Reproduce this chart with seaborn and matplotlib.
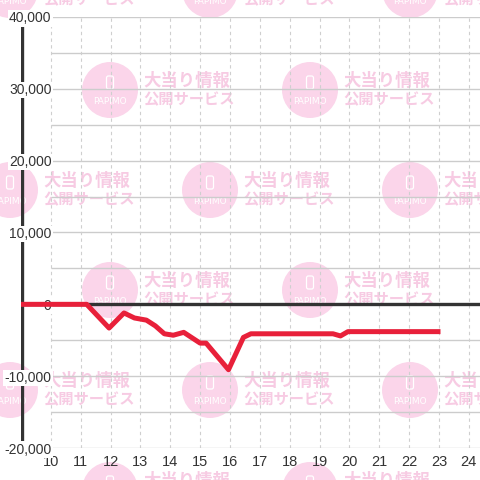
import matplotlib
matplotlib.use("Agg")
import matplotlib.pyplot as plt
import matplotlib.patches as mpatches
import seaborn as sns
import pandas as pd

# ---- data ----
hours = [9.0, 11.2, 11.95, 12.45, 12.8, 13.2, 13.5, 13.8, 14.1, 14.45, 15.0, 15.2,
         15.95, 16.45, 16.7, 19.45, 19.7, 19.95, 23.05]
values = [0, 0, -3300, -1200, -1900, -2200, -3000, -4100, -4300, -3900, -5400, -5400,
          -9100, -4600, -4100, -4100, -4400, -3800, -3800]
x_ticks = list(range(10, 25))
y_ticks = [-20000, -10000, 0, 10000, 20000, 30000, 40000]
y_tick_labels = ["-20,000", "-10,000", "0", "10,000", "20,000", "30,000", "40,000"]
grid_y = list(range(-20000, 40001, 5000))
wm_line1 = "大当り情報"
wm_line2 = "公開サービス"
wm_logo = "PAPIMO"

sns.set_theme(style="white")
plt.rcParams["font.family"] = ["Liberation Sans", "DejaVu Sans"]

fig = plt.figure(figsize=(4.8, 4.8), dpi=100, facecolor="white")

# ---- watermark (behind the chart) ----
W = 480.0
circle_col = "#fbd5ea"
text_col = "#f7cbe3"
for k in range(6):
    cy = -10 + 100 * k
    xs = [10, 210, 410] if k % 2 == 0 else [110, 310]
    for cx in xs:
        fig.patches.append(mpatches.Circle((cx / W, 1 - cy / W), 28 / W,
                                           transform=fig.transFigure,
                                           facecolor=circle_col, edgecolor="none",
                                           zorder=-5))
        fig.patches.append(mpatches.FancyBboxPatch(((cx - 3.5) / W, 1 - (cy - 1) / W),
                                                   7 / W, 13 / W,
                                                   boxstyle="round,pad=0,rounding_size=0.004",
                                                   transform=fig.transFigure,
                                                   facecolor="none", edgecolor="white",
                                                   linewidth=0.9, zorder=-4))
        fig.text(cx / W, 1 - (cy + 11) / W, wm_logo, color="white", fontsize=6.5,
                 ha="center", va="center", zorder=-4,
                 family=["DejaVu Sans"])
        fig.text((cx + 33) / W, 1 - (cy - 9) / W, wm_line1, color=text_col, fontsize=12.5,
                 ha="left", va="center", zorder=-4, fontweight="bold",
                 family=["Noto Sans CJK JP"])
        fig.text((cx + 33) / W, 1 - (cy + 9) / W, wm_line2, color=text_col, fontsize=11,
                 ha="left", va="center", zorder=-4, fontweight="bold",
                 family=["Noto Sans CJK JP"])

# ---- axes ----
left_px, top_px, bottom_px = 21, 17, 448
ax = fig.add_axes([left_px / W, 1 - bottom_px / W, 1 - left_px / W, (bottom_px - top_px) / W])
ax.set_facecolor("none")
xmin = 9.0
px_per_hour = (470 - 52) / 14.0
xmax = xmin + (W - left_px) / px_per_hour
ax.set_xlim(xmin, xmax)
ax.set_ylim(-20000, 40000)

for s in ax.spines.values():
    s.set_visible(False)

# horizontal grid lines (start at x=10)
ax.hlines(grid_y, 10, xmax, colors="#cccccc", linewidth=1.0, zorder=0.5)
# vertical dashed grid lines
ax.vlines(x_ticks, -20000, 40000, colors="#cfcfcf", linewidth=0.8,
          linestyles=(0, (3, 3)), zorder=0.6)
# y axis line and zero line
ax.vlines([xmin + 0.02], -20000, 40000, colors="#333333", linewidth=2.4, zorder=0.8)
ax.axhline(0, color="#333333", linewidth=2.4, zorder=0.9)

df = pd.DataFrame({"hour": hours, "value": values})
sns.lineplot(data=df, x="hour", y="value", ax=ax, color="#e8203a", linewidth=3.6,
             sort=False, zorder=3, solid_joinstyle="round", solid_capstyle="butt")

ax.set_xticks(x_ticks)
ax.set_xticklabels([str(t) for t in x_ticks])
ax.set_yticks(y_ticks)
ax.set_yticklabels(y_tick_labels)
ax.set_xlabel("")
ax.set_ylabel("")
ax.tick_params(axis="x", length=0, pad=5, labelsize=10.5, labelcolor="#333333")
ax.tick_params(axis="y", length=0, pad=-22, labelsize=10, labelcolor="#333333")
for lbl in ax.get_yticklabels():
    lbl.set_bbox(dict(facecolor="white", edgecolor="none", pad=0.8))
ax.yaxis.set_zorder(1.0)
ax.grid(False)

fig.savefig("out.png", dpi=100, facecolor="white")
